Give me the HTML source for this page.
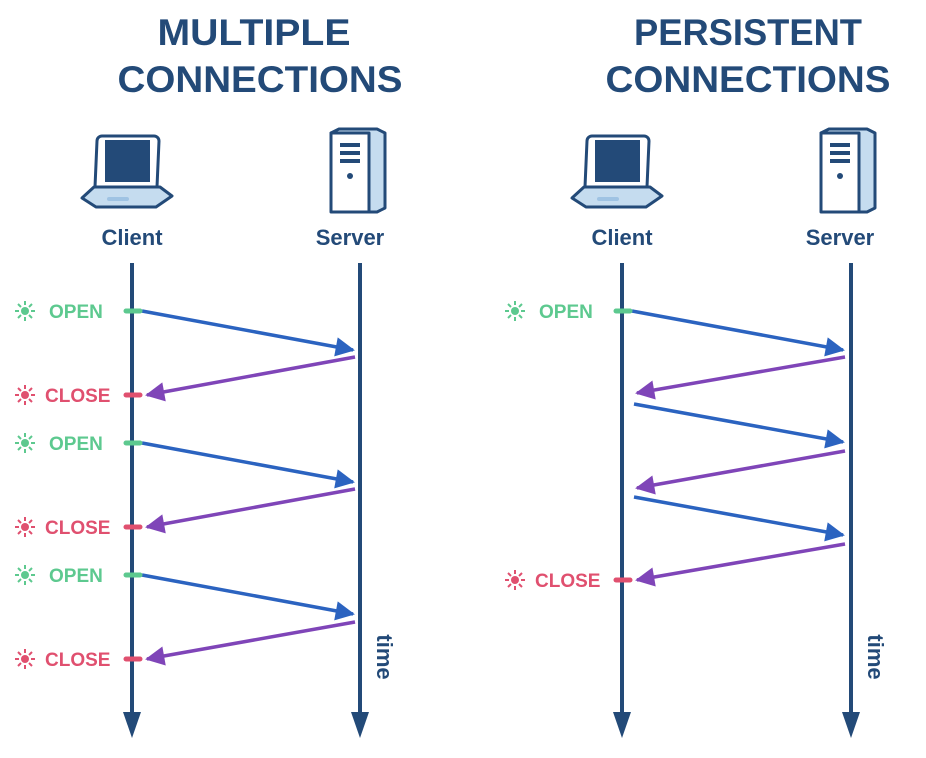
<!DOCTYPE html>
<html><head><meta charset="utf-8"><style>body{margin:0;background:#fff}svg{display:block}text{font-family:"Liberation Sans",sans-serif;font-weight:bold}</style></head>
<body>
<svg width="926" height="758" viewBox="0 0 926 758" xmlns="http://www.w3.org/2000/svg">
<defs>
<marker id="ab" viewBox="0 0 10 10" refX="9" refY="5" markerWidth="6.5" markerHeight="5.5" orient="auto" markerUnits="strokeWidth"><path d="M0,0 L10,5 L0,10 z" fill="#2b63c0"/></marker>
<marker id="ap" viewBox="0 0 10 10" refX="9" refY="5" markerWidth="6.5" markerHeight="5.5" orient="auto" markerUnits="strokeWidth"><path d="M0,0 L10,5 L0,10 z" fill="#7f45b8"/></marker>
<g id="laptop">
<path d="M-30,-74 h52 a5,5 0 0 1 5,5 l-2,46 h-62 l2,-46 a5,5 0 0 1 5,-5z" fill="#fff" stroke="#234a78" stroke-width="3"/>
<rect x="-27" y="-70" width="45" height="42" fill="#234a78"/>
<path d="M-38,-23 h66 l12,9 l-16,11 h-60 l-14,-9z" fill="#c5dcef" stroke="#234a78" stroke-width="3" stroke-linejoin="round"/>
<rect x="-25" y="-13" width="22" height="4" rx="2" fill="#9fc3e3"/>
</g>
<g id="server">
<path d="M-22,-80 l8,-4 h38 l8,4 v75 l-8,4 h-38 l-8,-4z" fill="#c5dcef" stroke="#234a78" stroke-width="3" stroke-linejoin="round"/>
<path d="M-22,-80 h38 v79 h-38z" fill="#fff" stroke="#234a78" stroke-width="3" stroke-linejoin="round"/>
<rect x="-13" y="-70" width="20" height="4" fill="#234a78"/>
<rect x="-13" y="-62" width="20" height="4" fill="#234a78"/>
<rect x="-13" y="-54" width="20" height="4" fill="#234a78"/>
<circle cx="-3" cy="-37" r="3" fill="#234a78"/>
</g>
<g id="sunG" fill="#5dc98f" stroke="#5dc98f" stroke-width="2"><circle r="4" stroke="none"/><path d="M0,-10v4M0,6v4M-10,0h4M6,0h4M-7,-7l3,3M4,4l3,3M-7,7l3,-3M4,-4l3,-3"/></g>
<g id="sunR" fill="#e0506f" stroke="#e0506f" stroke-width="2"><circle r="4" stroke="none"/><path d="M0,-10v4M0,6v4M-10,0h4M6,0h4M-7,-7l3,3M4,4l3,3M-7,7l3,-3M4,-4l3,-3"/></g>
</defs>
<g fill="#234a78" text-anchor="middle" font-size="37">
<text x="254" y="45" textLength="193" lengthAdjust="spacingAndGlyphs">MULTIPLE</text>
<text x="260" y="92" textLength="285" lengthAdjust="spacingAndGlyphs">CONNECTIONS</text>
<text x="748" y="45" textLength="228" lengthAdjust="spacingAndGlyphs">PERSISTENT</text>
<text x="748" y="92" textLength="285" lengthAdjust="spacingAndGlyphs">CONNECTIONS</text>
</g>
<use href="#laptop" x="132" y="210"/><use href="#server" x="353" y="213"/>
<use href="#laptop" x="622" y="210"/><use href="#server" x="843" y="213"/>
<g fill="#234a78" text-anchor="middle" font-size="22">
<text x="132" y="245">Client</text><text x="350" y="245">Server</text>
<text x="622" y="245">Client</text><text x="840" y="245">Server</text>
</g>
<g stroke="#234a78" stroke-width="4">
<line x1="132" y1="263" x2="132" y2="715"/><line x1="360" y1="263" x2="360" y2="715"/>
<line x1="622" y1="263" x2="622" y2="715"/><line x1="851" y1="263" x2="851" y2="715"/>
</g>
<g fill="#234a78">
<path d="M123,712 h18 l-9,26z"/><path d="M351,712 h18 l-9,26z"/>
<path d="M613,712 h18 l-9,26z"/><path d="M842,712 h18 l-9,26z"/>
</g>
<g fill="#234a78" font-size="22"><text transform="translate(377,657) rotate(90)" text-anchor="middle">time</text><text transform="translate(868,657) rotate(90)" text-anchor="middle">time</text></g>
<g stroke-width="3.5" fill="none">
<line x1="142" y1="311" x2="353" y2="350" stroke="#2b63c0" marker-end="url(#ab)"/>
<line x1="355" y1="357" x2="147" y2="395" stroke="#7f45b8" marker-end="url(#ap)"/>
<line x1="142" y1="443" x2="353" y2="482" stroke="#2b63c0" marker-end="url(#ab)"/>
<line x1="355" y1="489" x2="147" y2="527" stroke="#7f45b8" marker-end="url(#ap)"/>
<line x1="142" y1="575" x2="353" y2="614" stroke="#2b63c0" marker-end="url(#ab)"/>
<line x1="355" y1="622" x2="147" y2="659" stroke="#7f45b8" marker-end="url(#ap)"/>
<line x1="632" y1="311" x2="843" y2="350" stroke="#2b63c0" marker-end="url(#ab)"/>
<line x1="845" y1="357" x2="637" y2="393" stroke="#7f45b8" marker-end="url(#ap)"/>
<line x1="634" y1="404" x2="843" y2="442" stroke="#2b63c0" marker-end="url(#ab)"/>
<line x1="845" y1="451" x2="637" y2="488" stroke="#7f45b8" marker-end="url(#ap)"/>
<line x1="634" y1="497" x2="843" y2="535" stroke="#2b63c0" marker-end="url(#ab)"/>
<line x1="845" y1="544" x2="637" y2="580" stroke="#7f45b8" marker-end="url(#ap)"/>
</g>
<g stroke-width="5" stroke-linecap="round">
<line x1="126" y1="311" x2="140" y2="311" stroke="#5dc98f"/><line x1="126" y1="443" x2="140" y2="443" stroke="#5dc98f"/><line x1="126" y1="575" x2="140" y2="575" stroke="#5dc98f"/>
<line x1="126" y1="395" x2="140" y2="395" stroke="#e0506f"/><line x1="126" y1="527" x2="140" y2="527" stroke="#e0506f"/><line x1="126" y1="659" x2="140" y2="659" stroke="#e0506f"/>
<line x1="616" y1="311" x2="630" y2="311" stroke="#5dc98f"/><line x1="616" y1="580" x2="630" y2="580" stroke="#e0506f"/>
</g>
<use href="#sunG" x="25" y="311"/><use href="#sunG" x="25" y="443"/><use href="#sunG" x="25" y="575"/>
<use href="#sunR" x="25" y="395"/><use href="#sunR" x="25" y="527"/><use href="#sunR" x="25" y="659"/>
<use href="#sunG" x="515" y="311"/><use href="#sunR" x="515" y="580"/>
<g font-size="19">
<text x="49" y="318" fill="#5dc98f">OPEN</text><text x="49" y="450" fill="#5dc98f">OPEN</text><text x="49" y="582" fill="#5dc98f">OPEN</text>
<text x="45" y="402" fill="#e0506f">CLOSE</text><text x="45" y="534" fill="#e0506f">CLOSE</text><text x="45" y="666" fill="#e0506f">CLOSE</text>
<text x="539" y="318" fill="#5dc98f">OPEN</text><text x="535" y="587" fill="#e0506f">CLOSE</text>
</g>
</svg>
</body></html>
